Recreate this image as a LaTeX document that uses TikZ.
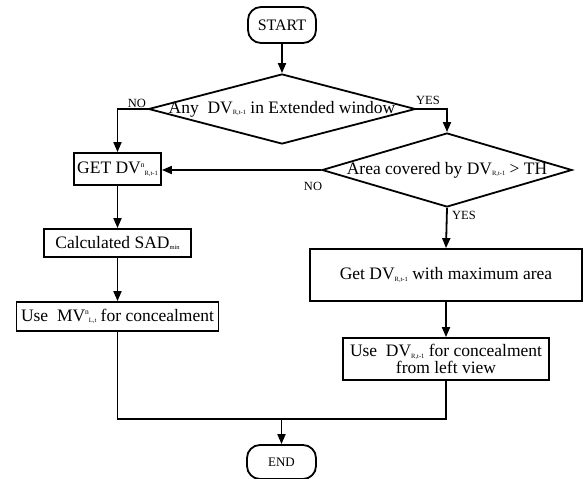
\documentclass[tikz,border=0pt]{standalone}
\usepackage{fontspec}
\setmainfont{Liberation Serif}
\usetikzlibrary{arrows.meta,shapes.geometric,calc}
\newcommand{\sbx}[1]{\raisebox{-1.5pt}{\fontsize{6.5}{7}\selectfont #1}}
\newcommand{\spx}[1]{\raisebox{6.5pt}{\fontsize{7.5}{8}\selectfont #1}}
\begin{document}
\begin{tikzpicture}[x=1pt,y=-1pt,
  line width=1.8pt,
  every node/.style={font=\fontsize{17.5}{19}\selectfont},
  box/.style={draw,rectangle,inner sep=0pt,align=center},
  term/.style={draw,rectangle,rounded corners=13pt,inner sep=0pt},
  dia/.style={draw,diamond,inner sep=0pt},
  lbl/.style={font=\fontsize{12.5}{14}\selectfont,inner sep=0pt},
  arr/.style={-{Triangle[length=10pt,width=8pt]}}]
\useasboundingbox (0,0) rectangle (584,479);
\fill[white] (0,0) rectangle (584,479);

\node[term,minimum width=68pt,minimum height=36pt,font=\fontsize{16}{18}\selectfont] (start) at (282,25) {START};
\node[dia,minimum width=267pt,minimum height=70pt] (d1) at (282,109) {};
\node (t1) at (282,109) {Any~~DV\sbx{R,t-1} in Extended window};
\node[lbl] (no1) at (137,103) {NO};
\node[lbl] (yes1) at (428,100) {YES};

\node[box,minimum width=87pt,minimum height=32pt] (get) at (117.5,169) {GET DV\spx{n}\sbx{R,t-1}};
\node[dia,minimum width=250pt,minimum height=74pt] (d2) at (447,170) {};
\node (t2) at (447,170) {Area covered by DV\sbx{R,t-1} > TH};
\node[lbl] (no2) at (313,186) {NO};
\node[lbl] (yes2) at (464,215) {YES};

\node[box,minimum width=147pt,minimum height=28pt] (sad) at (117.5,243) {Calculated SAD\sbx{min}};
\node[box,minimum width=202pt,minimum height=29pt] (mv) at (117.5,316.5) {Use~~MV\spx{n}\sbx{L,t} for concealment};

\node[box,minimum width=272pt,minimum height=52pt] (gmax) at (446,275) {Get DV\sbx{R,t-1} with maximum area};
\node[box,minimum width=206pt,minimum height=42pt,font=\fontsize{17.5}{17}\selectfont] (udv) at (446,359) {Use~~DV\sbx{R,t-1} for concealment\\from left view};

\node[term,minimum width=69pt,minimum height=34pt,font=\fontsize{13}{15}\selectfont] (end) at (281.5,462) {END};

\coordinate (j) at (0,419);

\draw[arr] (start) -- (d1.north);
\draw[arr] (d1.west) -| (get.north);
\draw[arr] (d1.east) -| (d2.north);
\draw[arr] (d2.west) -- (get.east |- d2.west);
\draw[arr] (get) -- (sad);
\draw[arr] (sad) -- (mv);
\draw[arr] (d2.south) -- (gmax.north);
\draw[arr] (gmax) -- (udv);
\draw (mv.south) -- (mv.south |- j) -- (udv.south |- j) -- (udv.south);
\draw[arr] (end.north |- j) -- (end.north);
\end{tikzpicture}
\end{document}
